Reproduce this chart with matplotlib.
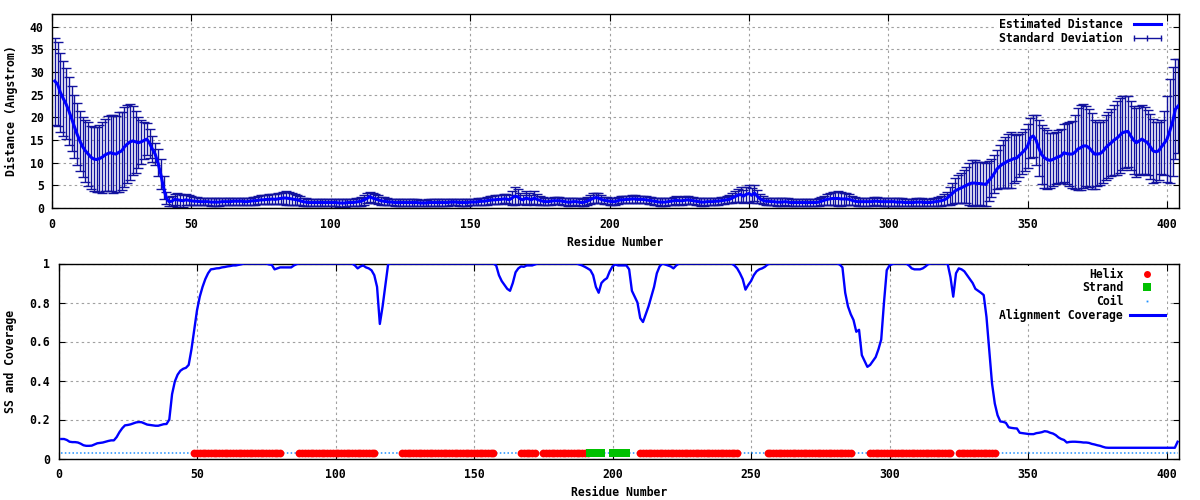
import numpy as np
import matplotlib
matplotlib.use("Agg")
import matplotlib.pyplot as plt
from matplotlib.lines import Line2D

# ---------------- data ----------------
n_res = 404
residues = list(range(1, n_res + 1))

est_distance = [
    28.0, 27.3, 25.5, 24.2, 23.0, 21.5, 19.8, 18.0, 16.3, 14.8,
    13.5, 12.6, 11.9, 11.2, 10.8, 10.7, 10.9, 11.2, 11.7, 12.0,
    12.2, 12.0, 11.9, 12.3, 12.6, 13.5, 14.1, 14.6, 14.8, 14.6,
    14.4, 14.6, 14.9, 15.2, 14.3, 13.0, 11.9, 10.0, 7.5, 4.5,
    2.2, 1.4, 1.5, 1.9, 1.8, 1.7, 1.6, 1.8, 1.7, 1.6,
    1.5, 1.5, 1.4, 1.4, 1.4, 1.4, 1.3, 1.3, 1.3, 1.3,
    1.4, 1.4, 1.4, 1.4, 1.5, 1.5, 1.5, 1.5, 1.4, 1.4,
    1.5, 1.6, 1.6, 1.7, 1.8, 1.8, 1.9, 1.9, 2.0, 1.9,
    2.0, 2.1, 2.2, 2.2, 2.1, 2.0, 1.9, 1.8, 1.6, 1.4,
    1.3, 1.2, 1.2, 1.2, 1.2, 1.2, 1.2, 1.2, 1.2, 1.2,
    1.2, 1.2, 1.1, 1.1, 1.1, 1.2, 1.2, 1.2, 1.3, 1.4,
    1.5, 1.8, 2.1, 2.5, 2.2, 2.0, 1.8, 1.6, 1.5, 1.4,
    1.3, 1.3, 1.2, 1.2, 1.2, 1.2, 1.2, 1.2, 1.2, 1.2,
    1.2, 1.1, 1.1, 1.1, 1.2, 1.2, 1.2, 1.2, 1.2, 1.2,
    1.2, 1.2, 1.3, 1.3, 1.3, 1.2, 1.2, 1.2, 1.2, 1.3,
    1.3, 1.3, 1.4, 1.5, 1.5, 1.6, 1.7, 1.8, 1.8, 1.9,
    1.9, 2.0, 2.0, 1.8, 2.2, 2.6, 2.5, 2.0, 1.8, 2.2,
    2.0, 1.8, 2.2, 1.9, 1.7, 1.5, 1.4, 1.4, 1.5, 1.6,
    1.6, 1.6, 1.5, 1.4, 1.3, 1.3, 1.4, 1.4, 1.3, 1.2,
    1.3, 1.5, 1.8, 2.1, 2.3, 2.2, 1.9, 1.7, 1.6, 1.5,
    1.4, 1.4, 1.6, 1.8, 1.8, 1.9, 1.9, 2.0, 2.0, 1.9,
    1.9, 1.9, 1.8, 1.7, 1.6, 1.5, 1.4, 1.3, 1.3, 1.3,
    1.4, 1.5, 1.6, 1.7, 1.6, 1.6, 1.7, 1.8, 1.7, 1.6,
    1.5, 1.4, 1.3, 1.3, 1.4, 1.4, 1.4, 1.5, 1.5, 1.6,
    1.7, 1.8, 1.9, 2.2, 2.5, 2.8, 3.0, 2.6, 3.0, 3.2,
    2.8, 3.3, 2.6, 2.0, 1.7, 1.5, 1.5, 1.4, 1.4, 1.3,
    1.3, 1.3, 1.4, 1.3, 1.2, 1.2, 1.2, 1.2, 1.2, 1.2,
    1.2, 1.2, 1.2, 1.2, 1.3, 1.5, 1.7, 1.9, 2.0, 2.1,
    2.1, 2.1, 2.0, 2.0, 2.0, 1.9, 1.7, 1.5, 1.4, 1.4,
    1.4, 1.4, 1.4, 1.4, 1.5, 1.5, 1.4, 1.4, 1.4, 1.4,
    1.4, 1.4, 1.3, 1.3, 1.3, 1.2, 1.2, 1.2, 1.2, 1.3,
    1.3, 1.3, 1.2, 1.2, 1.2, 1.3, 1.4, 1.5, 1.6, 1.8,
    2.1, 2.7, 3.2, 3.8, 4.1, 4.4, 4.7, 5.0, 5.3, 5.5,
    5.5, 5.4, 5.4, 5.3, 5.2, 6.0, 6.7, 7.6, 8.6, 9.2,
    9.7, 10.0, 10.4, 10.6, 10.9, 11.0, 11.6, 12.2, 12.8, 13.7,
    15.5, 15.9, 15.0, 13.2, 11.8, 11.1, 10.7, 10.5, 10.7, 11.0,
    11.3, 11.5, 12.2, 12.0, 11.9, 11.9, 12.3, 13.0, 13.3, 13.7,
    13.7, 13.3, 12.6, 11.9, 11.9, 12.0, 12.5, 13.3, 13.9, 14.4,
    15.0, 15.4, 16.0, 16.6, 16.8, 16.9, 15.9, 15.0, 14.4, 14.8,
    15.2, 14.8, 14.4, 13.5, 12.6, 12.4, 12.6, 13.5, 14.3, 15.2,
    17.0, 19.0, 21.8, 22.5,
]

std_dev = [
    9.6, 9.3, 8.8, 8.3, 7.8, 7.5, 7.2, 7.0, 6.8, 6.6,
    6.6, 6.8, 7.0, 7.0, 7.0, 7.2, 7.4, 7.8, 8.0, 8.2,
    8.4, 8.6, 8.4, 8.8, 8.6, 8.8, 8.6, 8.4, 7.6, 6.8,
    5.6, 4.8, 4.0, 3.6, 3.2, 2.8, 2.4, 3.0, 3.4, 2.6,
    1.4, 1.0, 1.1, 1.2, 1.5, 1.4, 1.3, 1.2, 1.1, 1.0,
    0.9, 0.9, 0.8, 0.8, 0.8, 0.8, 0.8, 0.8, 0.8, 0.8,
    0.8, 0.8, 0.8, 0.8, 0.8, 0.8, 0.8, 0.8, 0.8, 0.8,
    0.8, 0.9, 0.9, 0.9, 1.0, 1.0, 1.0, 1.1, 1.1, 1.1,
    1.2, 1.3, 1.4, 1.5, 1.4, 1.3, 1.2, 1.1, 1.0, 0.9,
    0.8, 0.8, 0.8, 0.8, 0.8, 0.8, 0.8, 0.8, 0.8, 0.8,
    0.8, 0.8, 0.8, 0.8, 0.8, 0.8, 0.8, 0.8, 0.8, 0.9,
    1.0, 1.1, 1.1, 1.1, 1.1, 1.0, 1.0, 0.9, 0.9, 0.8,
    0.7, 0.7, 0.7, 0.7, 0.7, 0.7, 0.7, 0.7, 0.7, 0.7,
    0.7, 0.7, 0.7, 0.7, 0.7, 0.7, 0.7, 0.7, 0.7, 0.7,
    0.7, 0.7, 0.7, 0.7, 0.7, 0.7, 0.7, 0.7, 0.7, 0.7,
    0.7, 0.7, 0.8, 0.8, 0.8, 0.9, 0.9, 0.9, 1.0, 1.0,
    1.0, 1.0, 1.0, 1.0, 1.5, 2.0, 1.6, 1.2, 1.0, 1.6,
    1.2, 1.0, 1.6, 1.1, 1.0, 0.9, 0.8, 0.8, 0.8, 0.8,
    0.8, 0.8, 0.8, 0.8, 0.8, 0.8, 0.8, 0.8, 0.8, 0.8,
    0.8, 0.9, 1.0, 1.1, 1.1, 1.0, 0.9, 0.8, 0.8, 0.8,
    0.8, 0.8, 0.8, 0.8, 0.8, 0.8, 0.8, 0.8, 0.8, 0.8,
    0.8, 0.8, 0.8, 0.8, 0.8, 0.8, 0.8, 0.8, 0.8, 0.8,
    0.8, 0.8, 0.9, 0.9, 0.9, 0.9, 0.9, 0.9, 0.8, 0.8,
    0.8, 0.8, 0.8, 0.8, 0.8, 0.8, 0.8, 0.8, 0.8, 0.8,
    0.8, 0.8, 0.9, 1.0, 1.2, 1.4, 1.6, 1.4, 1.7, 1.9,
    1.6, 1.8, 1.4, 1.0, 0.9, 0.8, 0.8, 0.8, 0.8, 0.8,
    0.8, 0.8, 0.8, 0.8, 0.8, 0.8, 0.8, 0.8, 0.8, 0.8,
    0.8, 0.8, 0.8, 0.8, 0.8, 0.9, 1.0, 1.2, 1.3, 1.4,
    1.5, 1.6, 1.5, 1.4, 1.3, 1.2, 1.0, 0.9, 0.9, 0.9,
    0.9, 0.9, 0.9, 0.9, 0.9, 0.9, 0.9, 0.9, 0.9, 0.9,
    0.9, 0.9, 0.9, 0.8, 0.8, 0.8, 0.8, 0.8, 0.8, 0.8,
    0.8, 0.8, 0.8, 0.8, 0.8, 0.8, 0.9, 1.0, 1.1, 1.2,
    1.5, 2.0, 2.4, 2.8, 3.1, 3.4, 3.7, 4.0, 4.6, 5.0,
    5.0, 4.8, 4.8, 4.8, 4.8, 4.4, 4.2, 4.2, 4.3, 4.8,
    5.2, 5.6, 6.0, 6.2, 5.4, 5.0, 4.8, 4.6, 4.6, 4.8,
    4.4, 4.6, 5.6, 6.2, 6.6, 6.6, 6.4, 6.0, 5.8, 5.8,
    5.8, 6.0, 6.4, 6.8, 7.0, 7.4, 8.2, 9.0, 9.4, 9.2,
    8.8, 8.6, 8.4, 7.6, 7.0, 7.0, 7.0, 7.2, 7.2, 7.4,
    7.8, 8.2, 8.2, 8.2, 8.0, 7.9, 7.6, 7.4, 7.6, 7.6,
    7.6, 7.4, 7.2, 7.2, 7.0, 6.6, 6.4, 6.0, 7.0, 9.5,
    11.5, 12.0, 11.0, 10.3,
]

coverage = [
    0.100, 0.100, 0.095, 0.086, 0.084, 0.084, 0.082, 0.076, 0.068, 0.065,
    0.065, 0.066, 0.072, 0.078, 0.080, 0.082, 0.086, 0.090, 0.093, 0.093,
    0.110, 0.135, 0.155, 0.170, 0.172, 0.175, 0.180, 0.185, 0.187, 0.186,
    0.180, 0.174, 0.172, 0.170, 0.168, 0.168, 0.172, 0.176, 0.177, 0.200,
    0.330, 0.395, 0.430, 0.450, 0.460, 0.465, 0.480, 0.560, 0.660, 0.760,
    0.830, 0.880, 0.920, 0.950, 0.970, 0.972, 0.975, 0.976, 0.980, 0.982,
    0.985, 0.987, 0.990, 0.990, 0.993, 0.996, 1.000, 1.000, 1.000, 1.000,
    1.000, 1.000, 1.000, 1.000, 1.000, 0.995, 0.993, 0.970, 0.975, 0.980,
    0.980, 0.980, 0.980, 0.980, 0.990, 0.997, 1.000, 1.000, 1.000, 1.000,
    1.000, 1.000, 1.000, 1.000, 1.000, 1.000, 1.000, 1.000, 1.000, 1.000,
    1.000, 1.000, 1.000, 1.000, 1.000, 1.000, 0.990, 0.975, 0.985, 0.990,
    0.980, 0.975, 0.965, 0.940, 0.880, 0.690, 0.780, 0.890, 0.997, 1.000,
    1.000, 1.000, 1.000, 1.000, 1.000, 1.000, 1.000, 1.000, 1.000, 1.000,
    1.000, 1.000, 1.000, 1.000, 1.000, 1.000, 1.000, 1.000, 1.000, 1.000,
    1.000, 1.000, 1.000, 1.000, 1.000, 1.000, 1.000, 1.000, 1.000, 1.000,
    1.000, 1.000, 1.000, 1.000, 1.000, 1.000, 1.000, 0.990, 0.940, 0.910,
    0.890, 0.870, 0.860, 0.900, 0.955, 0.975, 0.985, 0.983, 0.990, 0.990,
    0.990, 0.995, 1.000, 1.000, 1.000, 1.000, 1.000, 1.000, 1.000, 1.000,
    1.000, 1.000, 1.000, 1.000, 1.000, 1.000, 1.000, 0.995, 0.990, 0.983,
    0.975, 0.966, 0.940, 0.880, 0.850, 0.900, 0.915, 0.925, 0.960, 0.985,
    0.995, 0.990, 0.990, 0.990, 0.990, 0.970, 0.860, 0.830, 0.800, 0.720,
    0.700, 0.740, 0.780, 0.830, 0.880, 0.950, 0.985, 1.000, 0.995, 0.990,
    0.985, 0.975, 0.990, 1.000, 1.000, 1.000, 1.000, 1.000, 1.000, 1.000,
    1.000, 1.000, 1.000, 1.000, 1.000, 1.000, 1.000, 1.000, 1.000, 1.000,
    1.000, 1.000, 1.000, 0.990, 0.975, 0.950, 0.920, 0.866, 0.890, 0.910,
    0.940, 0.960, 0.970, 0.975, 0.983, 0.995, 1.000, 1.000, 1.000, 1.000,
    1.000, 1.000, 1.000, 1.000, 1.000, 1.000, 1.000, 1.000, 1.000, 1.000,
    1.000, 1.000, 1.000, 1.000, 1.000, 1.000, 1.000, 1.000, 1.000, 1.000,
    1.000, 0.995, 0.980, 0.850, 0.780, 0.740, 0.710, 0.650, 0.660, 0.530,
    0.500, 0.470, 0.480, 0.500, 0.520, 0.560, 0.610, 0.800, 0.966, 0.990,
    0.997, 1.000, 1.000, 1.000, 1.000, 1.000, 0.990, 0.975, 0.970, 0.970,
    0.970, 0.975, 0.985, 0.997, 1.000, 1.000, 1.000, 1.000, 1.000, 1.000,
    0.997, 0.930, 0.830, 0.950, 0.975, 0.970, 0.960, 0.940, 0.920, 0.900,
    0.870, 0.860, 0.850, 0.838, 0.726, 0.556, 0.385, 0.282, 0.222, 0.190,
    0.188, 0.183, 0.160, 0.157, 0.155, 0.154, 0.132, 0.130, 0.128, 0.126,
    0.125, 0.125, 0.130, 0.132, 0.135, 0.140, 0.138, 0.132, 0.128, 0.120,
    0.108, 0.100, 0.095, 0.082, 0.085, 0.086, 0.086, 0.085, 0.084, 0.082,
    0.082, 0.080, 0.075, 0.072, 0.068, 0.065, 0.060, 0.056, 0.055, 0.055,
    0.055, 0.055, 0.055, 0.055, 0.055, 0.055, 0.055, 0.055, 0.055, 0.055,
    0.055, 0.055, 0.055, 0.055, 0.055, 0.055, 0.055, 0.055, 0.055, 0.055,
    0.055, 0.055, 0.055, 0.086,
]

# secondary structure segments (first residue, last residue)
helix_segments = [(49, 80), (87, 114), (124, 157), (167, 172), (175, 191),
                  (210, 245), (256, 286), (293, 322), (325, 338)]
strand_segments = [(192, 196), (200, 205)]
ss_level = 0.03

x_ticks = [0, 50, 100, 150, 200, 250, 300, 350, 400]
y_ticks_top = [0, 5, 10, 15, 20, 25, 30, 35, 40]
y_ticks_bottom = [0, 0.2, 0.4, 0.6, 0.8, 1.0]
y_ticklabels_bottom = ["0", "0.2", "0.4", "0.6", "0.8", "1"]

# ---------------- styling ----------------
FONT = {"family": "DejaVu Sans Mono", "weight": "bold", "size": 8.3}
plt.rcParams["font.family"] = "DejaVu Sans Mono"
plt.rcParams["font.weight"] = "bold"
plt.rcParams["font.size"] = 8.3

LINE_BLUE = "#0000ff"
ERR_BLUE = "#12129e"
HELIX_RED = "#ff0000"
STRAND_GREEN = "#00c000"
COIL_BLUE = "#1e90ff"
GRID_KW = dict(color="#a0a0a0", linewidth=0.8, linestyle=(0, (2.2, 2.8)))

W, H = 1200, 500
fig = plt.figure(figsize=(W / 100, H / 100), dpi=100)

ax1 = fig.add_axes([52 / W, 1 - 208 / H, (1179 - 52) / W, (208 - 14) / H])
ax2 = fig.add_axes([58.5 / W, 1 - 458.5 / H, (1179 - 58.5) / W, (458.5 - 263.5) / H])


def style_axes(ax):
    ax.tick_params(direction="in", top=True, right=True, width=0.8,
                   labelsize=8.3)
    ax.tick_params(axis="x", length=5, pad=7)
    ax.tick_params(axis="y", length=4, pad=6)
    for s in ax.spines.values():
        s.set_linewidth(1.0)
        s.set_color("black")
    ax.grid(True, **GRID_KW)
    ax.set_axisbelow(True)
    for lab in ax.get_xticklabels() + ax.get_yticklabels():
        lab.set_fontweight("bold")


# ---------------- top panel ----------------
x = np.array(residues)
ax1.errorbar(x, est_distance, yerr=std_dev, fmt="none", ecolor=ERR_BLUE,
             elinewidth=1.0, capsize=3.6, capthick=1.0, zorder=2)
ax1.plot(x, est_distance, color=LINE_BLUE, linewidth=2.2, zorder=3)
ax1.set_xlim(0, 404.3)
ax1.set_ylim(0, 42.8)
ax1.set_xticks(x_ticks)
ax1.set_yticks(y_ticks_top)
style_axes(ax1)
ax1.set_xlabel("Residue Number", fontdict=FONT)
ax1.set_ylabel("Distance (Angstrom)", fontdict=FONT)
ax1.xaxis.set_label_coords(0.5, (208 - 246) / 194)
ax1.xaxis.label.set_va("baseline")
ax1.yaxis.set_label_coords((11 - 52) / 1127, 0.5)
ax1.yaxis.label.set_va("center")

h1 = [Line2D([], [], color=LINE_BLUE, linewidth=2.2),
      Line2D([], [], color=ERR_BLUE, linewidth=1.0, marker="|",
             markersize=5, markeredgewidth=1.0)]
leg1 = ax1.legend(h1, ["Estimated Distance", "Standard Deviation"],
                  loc="upper right", bbox_to_anchor=(1 - 12 / 1127, 1 - 2 / 194),
                  markerfirst=False, numpoints=3, handlelength=3.0,
                  handletextpad=0.6, labelspacing=0.05, borderpad=0.2,
                  borderaxespad=0.0, frameon=True, fancybox=False,
                  prop=FONT)
leg1.get_frame().set_facecolor("white")
leg1.get_frame().set_edgecolor("none")
leg1.get_frame().set_alpha(1.0)

# ---------------- bottom panel ----------------
ss = np.array(["C"] * n_res)
for a, b in helix_segments:
    ss[a - 1:b] = "H"
for a, b in strand_segments:
    ss[a - 1:b] = "E"
ss_y = np.full(n_res, ss_level)

coil_y = np.where(ss == "C", ss_y, np.nan)
helix_y = np.where(ss == "H", ss_y, np.nan)
strand_y = np.where(ss == "E", ss_y, np.nan)

ax2.plot(x, coil_y, color=COIL_BLUE, linewidth=1.1, linestyle=(0, (1, 1.5)),
         zorder=2)
ax2.plot(x, helix_y, linestyle="none", marker="o", markersize=5.6,
         markeredgewidth=0, color=HELIX_RED, zorder=3)
ax2.plot(x, strand_y, linestyle="none", marker="s", markersize=5.2,
         markeredgewidth=0, color=STRAND_GREEN, zorder=3)
ax2.plot(x, coverage, color=LINE_BLUE, linewidth=1.7, zorder=4)
ax2.set_xlim(0, 404.5)
ax2.set_ylim(0, 1.0)
ax2.set_xticks(x_ticks)
ax2.set_yticks(y_ticks_bottom)
ax2.set_yticklabels(y_ticklabels_bottom)
style_axes(ax2)
ax2.set_xlabel("Residue Number", fontdict=FONT)
ax2.set_ylabel("SS and Coverage", fontdict=FONT)
ax2.xaxis.set_label_coords(0.5, (458.3 - 496) / 195)
ax2.xaxis.label.set_va("baseline")
ax2.yaxis.set_label_coords((11 - 58.5) / 1120.5, 0.5)
ax2.yaxis.label.set_va("center")

h2 = [Line2D([], [], linestyle="none", marker="o", markersize=5.0,
             markeredgewidth=0, color=HELIX_RED),
      Line2D([], [], linestyle="none", marker="s", markersize=5.5,
             markeredgewidth=0, color=STRAND_GREEN),
      Line2D([], [], linestyle="none", marker="s", markersize=1.3,
             markeredgewidth=0, color=COIL_BLUE),
      Line2D([], [], color=LINE_BLUE, linewidth=2.2)]
leg2 = ax2.legend(h2, ["Helix", "Strand", "Coil", "Alignment Coverage"],
                  loc="upper right", bbox_to_anchor=(1 - 12 / 1120.5, 1 - 2 / 195),
                  markerfirst=False, numpoints=1, handlelength=3.0,
                  handletextpad=0.6, labelspacing=0.05, borderpad=0.2,
                  borderaxespad=0.0, frameon=True, fancybox=False,
                  prop=FONT)
leg2.get_frame().set_facecolor("white")
leg2.get_frame().set_edgecolor("none")
leg2.get_frame().set_alpha(1.0)

fig.savefig("out.png", dpi=100)
